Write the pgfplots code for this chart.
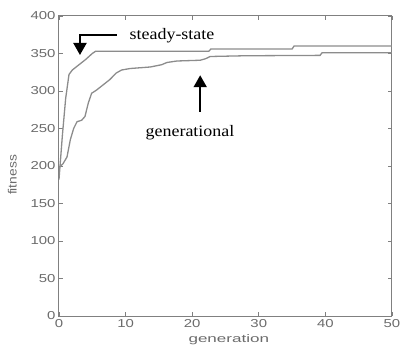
\documentclass[border=0pt]{standalone}
\usepackage{fontspec}
\usepackage{pgfplots}
\pgfplotsset{compat=1.18}
\usetikzlibrary{arrows.meta}
\setmainfont{Liberation Serif}
\newfontfamily\tickfont[FakeStretch=1.3]{Liberation Sans}
\newfontfamily\labfont[FakeStretch=1.55]{Liberation Sans}
\newfontfamily\ylabfont[FakeStretch=1.15]{Liberation Sans}
\newfontfamily\annfont[FakeStretch=1.12]{Liberation Serif}
\definecolor{axgray}{rgb}{0.5,0.5,0.5}
\definecolor{txtgray}{rgb}{0.42,0.42,0.42}
\definecolor{curvegray}{rgb}{0.55,0.55,0.55}
\begin{document}
\begin{tikzpicture}
\useasboundingbox (0,0) rectangle (400bp,349bp);
\begin{axis}[
  at={(59bp,33bp)}, anchor=south west,
  scale only axis, width=333bp, height=300bp,
  xmin=0, xmax=50, ymin=0, ymax=400,
  xtick={0,10,20,30,40,50},
  ytick={0,50,100,150,200,250,300,350,400},
  tick align=inside, major tick length=4bp,
  axis line style={axgray, line width=1bp},
  every tick/.style={axgray, line width=0.8bp},
  /pgf/number format/assume math mode=true,
  ticklabel style={font=\tickfont\fontsize{11.5bp}{13bp}\selectfont, text=txtgray},
  xlabel={generation}, ylabel={fitness},
  xlabel style={font=\labfont\fontsize{11bp}{13bp}\selectfont, text=txtgray, at={(axis description cs:0.51,-0.08)}, anchor=center},
  ylabel style={font=\ylabfont\fontsize{12bp}{14bp}\selectfont, text=txtgray, at={(axis description cs:-0.14,0.47)}, anchor=center},
  clip=true,
]
% steady-state
\addplot[curvegray, line width=1.3bp] coordinates {
(0,182) (0.5,240) (1,290) (1.5,322) (2,328) (3,335) (4,342) (5,350) (5.5,353)
(22.5,353) (22.8,356) (35,356) (35.3,360) (50,360)
};
% generational
\addplot[curvegray, line width=1.3bp] coordinates {
(0,198) (0.6,203) (1.2,212) (1.7,235) (2.2,250) (2.7,259) (3.4,261) (3.9,266)
(4.4,284) (4.9,297) (5.6,301) (6.6,308) (7.6,315) (8.6,324) (9.4,328)
(10.7,330) (13.7,332) (15.4,335) (16.2,338) (17.7,340) (21.2,341) (22,343)
(22.7,346) (28,347) (39.2,347.5) (39.5,351) (50,351)
};
\draw[black, line width=2bp, -{Triangle[length=12bp,width=13bp]}]
  (axis cs:8.7,374.7) -| (axis cs:3.15,348);
\draw[black, line width=2bp, -{Triangle[length=12bp,width=13bp]}]
  (axis cs:21.2,272) -- (axis cs:21.2,321);
\node[font=\annfont\fontsize{16bp}{18bp}\selectfont, anchor=center] at (axis cs:16.97,373.3) {steady-state};
\node[font=\annfont\fontsize{16bp}{18bp}\selectfont, anchor=center] at (axis cs:19.67,245) {generational};
\end{axis}
\end{tikzpicture}
\end{document}
